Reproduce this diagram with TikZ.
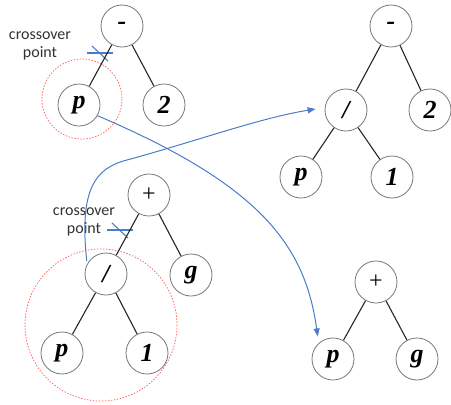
\documentclass[tikz,border=0pt]{standalone}
\usepackage{fontspec}
\setmainfont{Liberation Serif}
\newfontfamily\lblfont{Carlito}
\usetikzlibrary{arrows.meta}
\definecolor{arrowblue}{RGB}{74,124,200}
\definecolor{markred}{RGB}{255,90,90}
\definecolor{ringgray}{RGB}{120,120,120}
\definecolor{textgray}{RGB}{50,50,50}
\tikzset{
  tnode/.style={circle, draw=ringgray, line width=0.8pt, fill=white,
    minimum size=42pt, inner sep=0pt, font=\fontsize{26}{28}\selectfont\bfseries\itshape},
  opnode/.style={tnode, font=\fontsize{24}{26}\selectfont},
  branch/.style={line width=1.1pt, black!85},
  subtree/.style={draw=markred, line width=0.7pt, dash pattern=on 1.5pt off 1.5pt},
  swap/.style={draw=arrowblue, line width=1pt, -{Triangle[length=8pt,width=6pt]}},
  cutmark/.style={draw=arrowblue, line width=1.1pt},
  cutlabel/.style={font=\lblfont\fontsize{16}{18}\selectfont, text=textgray, align=center}
}
\begin{document}
\begin{tikzpicture}[x=1pt,y=-1pt]
\useasboundingbox (0,0) rectangle (451,405);

% selected sub-trees
\draw[subtree] (82,99) circle (40);
\draw[subtree] (101,325) circle (76);

% crossover marks on the cut edges
\draw[cutmark] (87,53) -- (113,53);
\draw[cutmark] (92,46) -- (108,61);
\draw[cutmark] (107,230) -- (133,230);
\draw[cutmark] (112,223) -- (128,238);

\node[cutlabel] (lab1) at (40,46) {crossover\\point};
\node[cutlabel] (lab2) at (84,222) {crossover\\point};

% parent 1:  p - 2
\node[tnode] (m1) at (122,26) {-};
\node[tnode] (p1) at (79,105) {p};
\node[tnode] (two1) at (164,105) {2};
\draw[branch] (m1) -- (p1);
\draw[branch] (m1) -- (two1);

% parent 2:  (p / 1) + g
\node[opnode] (plus3) at (149,195) {+};
\node[tnode] (div3) at (106,274) {/};
\node[tnode] (g3) at (191,275) {g};
\node[tnode] (p3) at (62,353) {p};
\node[tnode] (one3) at (147,353) {1};
\draw[branch] (plus3) -- (div3);
\draw[branch] (plus3) -- (g3);
\draw[branch] (div3) -- (p3);
\draw[branch] (div3) -- (one3);

% offspring 1:  (p / 1) - 2
\node[tnode] (m2) at (391,26) {-};
\node[tnode] (div2) at (346,110) {/};
\node[tnode] (two2) at (430,110) {2};
\node[tnode] (p2) at (301,177) {p};
\node[tnode] (one2) at (392,177) {1};
\draw[branch] (m2) -- (div2);
\draw[branch] (m2) -- (two2);
\draw[branch] (div2) -- (p2);
\draw[branch] (div2) -- (one2);

% offspring 2:  p + g
\node[opnode] (plus4) at (376,282) {+};
\node[tnode] (p4) at (333,359) {p};
\node[tnode] (g4) at (417,359) {g};
\draw[branch] (plus4) -- (p4);
\draw[branch] (plus4) -- (g4);

% exchange of the sub-trees
\draw[swap] (p1.-30) .. controls (260,185) and (305,245) .. ([shift={(-3,-5)}]p4.125);
\draw[swap, shorten <=3pt] (div3.152) .. controls (79,190) and (95,168) .. (127,160)
  .. controls (200,140) and (260,118) .. ([shift={(-9,-1)}]div2.west);
\end{tikzpicture}
\end{document}
